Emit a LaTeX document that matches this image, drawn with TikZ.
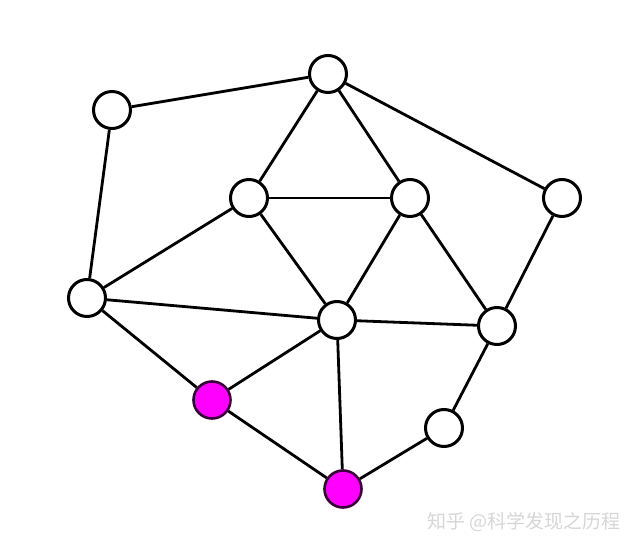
\documentclass[tikz,border=0pt]{standalone}
\usepackage{fontspec}
\newfontfamily\cjk{Noto Sans CJK SC}
\definecolor{magentafill}{HTML}{FF00FF}
\definecolor{magentaedge}{HTML}{3A003A}
\begin{document}
\begin{tikzpicture}[x=1pt,y=-1pt,
  vtx/.style={circle,draw=black,line width=3pt,fill=white,minimum size=37pt,inner sep=0pt},
  hot/.style={circle,draw=magentaedge,line width=2.6pt,fill=magentafill,minimum size=37pt,inner sep=0pt},
  edge/.style={line width=2.8pt,black},
  wm/.style={text=black!16,font=\cjk\fontsize{19}{19}\selectfont,inner sep=0pt,anchor=west}]
\useasboundingbox (0,0) rectangle (641,551);
\node[vtx] (A) at (112,110) {};
\node[vtx] (B) at (328,74) {};
\node[vtx] (C) at (249,198) {};
\node[vtx] (D) at (410,198) {};
\node[vtx] (E) at (562,198) {};
\node[vtx] (F) at (87,298) {};
\node[vtx] (G) at (337,320) {};
\node[vtx] (H) at (497,326) {};
\node[hot] (I) at (212,400) {};
\node[vtx] (J) at (444,428) {};
\node[hot] (K) at (343,489) {};
\foreach \u/\v in {A/B,A/F,B/C,B/D,B/E,C/D,C/F,C/G,D/G,D/H,E/H,F/G,F/I,G/H,G/I,G/K,I/K,K/J,J/H}
  \draw[edge] (\u) -- (\v);
\node[wm] (W) at (427,522) {知乎 @科学发现之历程};
\end{tikzpicture}
\end{document}
